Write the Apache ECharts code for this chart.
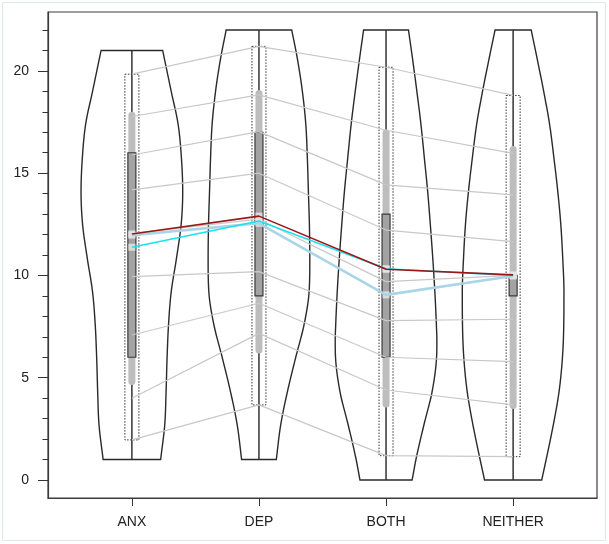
<!DOCTYPE html>
<html><head><meta charset="utf-8">
<script src="https://cdn.jsdelivr.net/npm/echarts@6/dist/echarts.min.js"></script>
<style>html,body{margin:0;padding:0;background:#fff}#c{width:609px;height:544px}</style>
</head><body><div id="c"></div>
<script>
// ---------- data ----------
const categories = ['ANX', 'DEP', 'BOTH', 'NEITHER'];
const yTickValues = [0,1,2,3,4,5,6,7,8,9,10,11,12,13,14,15,16,17,18,19,20,21,22];
const yLabelValues = [0, 5, 10, 15, 20];

// violin profiles: [value, relative density]
const violinANX = [[1,28],[2.7,32],[4.3,33.3],[6,34.3],[7.6,35.7],[9.2,38.3],[10.8,43.3],[12.5,48],[14.1,49.5],[15.7,48.3],[17.4,45],[19,38.3],[21,30]];
const violinDEP = [[1,17.3],[2.7,21.7],[4.3,28.3],[6,36.7],[7.6,45],[9.2,50],[10.8,50.7],[12.5,50.3],[14.1,49.3],[15.7,48.3],[17.4,46.7],[19,43.3],[20.6,38.3],[22,32.7]];
const violinBOTH = [[0,25.8],[1.1,30],[2.7,37.5],[4.3,45.5],[6,50],[6.8,50.3],[7.6,49.8],[9.2,48.3],[10.8,46.3],[12.5,43.8],[14.1,41.2],[15.7,38],[17.4,34.5],[19,30.5],[20.6,26.2],[22,22.2]];
const violinNEITHER = [[0,28.8],[1.1,33.7],[2.7,40.5],[4.3,46.2],[6,49.7],[7.6,51],[9.2,51.2],[10.8,50],[12.5,48],[14.1,45],[15.7,41.2],[17.4,36.7],[19,30.8],[20.6,24.2],[22,18.2]];

// box (IQR) and light bar per group
const boxLow  = [6, 9, 6, 9];
const boxHigh = [16, 17, 13, 10];
const barLow  = [4.65, 6.19, 3.55, 3.47];
const barHigh = [18.0, 19.07, 17.15, 16.33];

// quantile connection lines, values at [ANX, DEP, BOTH, NEITHER]
const qLine1 = [19.84, 21.2, 20.18, 18.8];
const qLine2 = [17.77, 18.83, 17.1, 15.97];
const qLine3 = [15.89, 17.03, 14.43, 13.94];
const qLine4 = [14.18, 15.0, 12.22, 11.65];
const qLine5 = [12.06, 12.75, 9.7, 10.0];
const qLine6 = [9.94, 10.19, 7.79, 7.86];
const qLine7 = [7.09, 8.64, 6.0, 5.79];
const qLine8 = [4.0, 7.17, 4.4, 3.67];
const qLine9 = [1.96, 3.67, 1.19, 1.14];

// summary lines
const redLine  = [12.03, 12.9, 10.3, 10.03];
const cyanLine = [11.38, 12.66, 10.33, 10.0];
const blueLine = [11.97, 12.55, 9.05, 9.97];

// ---------- chart ----------
const violins = [violinANX, violinDEP, violinBOTH, violinNEITHER];
const qLines = [qLine1,qLine2,qLine3,qLine4,qLine5,qLine6,qLine7,qLine8,qLine9];
const VIOLIN_HALF = 0.4;
const toPts = arr => arr.map((v, i) => [i + 1, v]);

// monotone cubic (Fritsch-Carlson) resampling of a profile for a smooth outline
function smoothProfile(prof, steps) {
  const n = prof.length, xs = prof.map(p => p[0]), ys = prof.map(p => p[1]);
  const d = [], m = new Array(n);
  for (let i = 0; i < n - 1; i++) d.push((ys[i + 1] - ys[i]) / (xs[i + 1] - xs[i]));
  m[0] = d[0]; m[n - 1] = d[n - 2];
  for (let i = 1; i < n - 1; i++) m[i] = (d[i - 1] * d[i] <= 0) ? 0 : (d[i - 1] + d[i]) / 2;
  for (let i = 0; i < n - 1; i++) {
    if (d[i] === 0) { m[i] = 0; m[i + 1] = 0; continue; }
    const a = m[i] / d[i], b = m[i + 1] / d[i], s = a * a + b * b;
    if (s > 9) { const t = 3 / Math.sqrt(s); m[i] = t * a * d[i]; m[i + 1] = t * b * d[i]; }
  }
  const out = [];
  for (let i = 0; i < n - 1; i++) {
    const h = xs[i + 1] - xs[i];
    for (let k = 0; k < steps; k++) {
      const t = k / steps, t2 = t * t, t3 = t2 * t;
      const v = (2*t3 - 3*t2 + 1) * ys[i] + (t3 - 2*t2 + t) * h * m[i] + (-2*t3 + 3*t2) * ys[i + 1] + (t3 - t2) * h * m[i + 1];
      out.push([xs[i] + t * h, v]);
    }
  }
  out.push([xs[n - 1], ys[n - 1]]);
  return out;
}

const chart = echarts.init(document.getElementById('c'), null, {renderer: 'canvas'});

const violinSeries = {
  type: 'custom', coordinateSystem: 'cartesian2d', z: 1, silent: true,
  data: categories.map((c, i) => [i + 1, 0]),
  renderItem(params, api) {
    const i = params.dataIndex, xc = i + 1;
    const prof = smoothProfile(violins[i], 12);
    const maxD = Math.max(...prof.map(p => p[1]));
    const left = prof.map(p => api.coord([xc - VIOLIN_HALF * p[1] / maxD, p[0]]));
    const right = prof.map(p => api.coord([xc + VIOLIN_HALF * p[1] / maxD, p[0]]));
    const outline = left.concat(right.slice().reverse());
    const n = prof.length - 1;
    const c0 = api.coord([xc, prof[0][0]]), c1 = api.coord([xc, prof[n][0]]);
    return {type: 'group', children: [
      {type: 'polygon', shape: {points: outline}, style: {stroke: '#2a2a2a', lineWidth: 1.4, fill: null, lineJoin: 'miter'}},
      {type: 'line', shape: {x1: c0[0], y1: c0[1], x2: c1[0], y2: c1[1]}, style: {stroke: '#333', lineWidth: 1.5}}
    ]};
  }
};

const boxSeries = {
  type: 'custom', coordinateSystem: 'cartesian2d', z: 2, silent: true,
  data: categories.map((c, i) => [i + 1, 0]),
  renderItem(params, api) {
    const i = params.dataIndex, xc = i + 1;
    const dTop = api.coord([xc, qLines[0][i]]), dBot = api.coord([xc, qLines[8][i]]);
    const bTop = api.coord([xc, barHigh[i]]), bBot = api.coord([xc, barLow[i]]);
    const qTop = api.coord([xc, boxHigh[i]]), qBot = api.coord([xc, boxLow[i]]);
    const cx = dTop[0];
    return {type: 'group', children: [
      {type: 'rect', shape: {x: cx - 7, y: dTop[1], width: 14, height: dBot[1] - dTop[1]},
       style: {fill: null, stroke: '#333', lineWidth: 1, lineDash: [1.5, 1.5]}},
      {type: 'line', shape: {x1: cx, y1: bTop[1] + 3.5, x2: cx, y2: bBot[1] - 3.5},
       style: {stroke: '#bdbdbd', lineWidth: 7, lineCap: 'round'}},
      {type: 'rect', shape: {x: cx - 4, y: qTop[1], width: 8, height: qBot[1] - qTop[1]},
       style: {fill: '#a3a3a3', stroke: '#3a3a3a', lineWidth: 1.2}}
    ]};
  }
};

const grayLineSeries = qLines.map(q => ({
  type: 'line', data: toPts(q), symbol: 'none', z: 3, silent: true,
  lineStyle: {color: '#c8c8c8', width: 1.2}
}));

const markerSeries = [blueLine, cyanLine, redLine].map(l => ({
  type: 'scatter', data: toPts(l), symbol: 'rect', symbolSize: 7, z: 4, silent: true,
  itemStyle: {color: '#e4e4e4', opacity: 0.85}
}));

const colorSeries = [
  {data: blueLine, color: '#a9d5e6', width: 2.6},
  {data: cyanLine, color: '#19e3f0', width: 1.6},
  {data: redLine, color: '#9c1818', width: 1.6}
].map(s => ({
  type: 'line', data: toPts(s.data), symbol: 'none', z: 5, silent: true,
  lineStyle: {color: s.color, width: s.width}
}));

const option = {
  animation: false,
  backgroundColor: '#fff',
  grid: {left: 48, right: 12, top: 12, bottom: 46, show: true, borderColor: '#3c3c3c', borderWidth: 1.2, backgroundColor: 'transparent'},
  xAxis: {
    type: 'value', min: 0.34, max: 4.66,
    splitLine: {show: false},
    axisLine: {show: true, onZero: false, lineStyle: {color: '#3c3c3c', width: 1.2}},
    axisTick: {show: true, customValues: [1, 2, 3, 4], length: 8, lineStyle: {color: '#333'}},
    axisLabel: {customValues: [1, 2, 3, 4], formatter: v => categories[Math.round(v) - 1],
      margin: 17, fontSize: 14, color: '#222', fontFamily: 'Liberation Sans, Arial, sans-serif'}
  },
  yAxis: [{
    type: 'value', min: -0.88, max: 22.88,
    splitLine: {show: false},
    axisLine: {show: true, onZero: false, lineStyle: {color: '#3c3c3c', width: 1.2}},
    axisTick: {show: true, customValues: yLabelValues, length: 10, lineStyle: {color: '#333'}},
    axisLabel: {customValues: yLabelValues, margin: 19, fontSize: 14, color: '#222',
      fontFamily: 'Liberation Sans, Arial, sans-serif'}
  }, {
    type: 'value', min: -0.88, max: 22.88, position: 'left', offset: 0,
    splitLine: {show: false},
    axisLine: {show: false, onZero: false},
    axisTick: {show: true, customValues: yTickValues, length: 5.5, lineStyle: {color: '#333'}},
    axisLabel: {show: false}
  }],
  graphic: [{type: 'rect', silent: true, shape: {x: 2.5, y: 2.5, width: 603, height: 538},
    style: {fill: null, stroke: '#dfe7ee', lineWidth: 1}}],
  series: [violinSeries, boxSeries, ...grayLineSeries, ...markerSeries, ...colorSeries]
};
chart.setOption(option);
</script>
</body></html>
